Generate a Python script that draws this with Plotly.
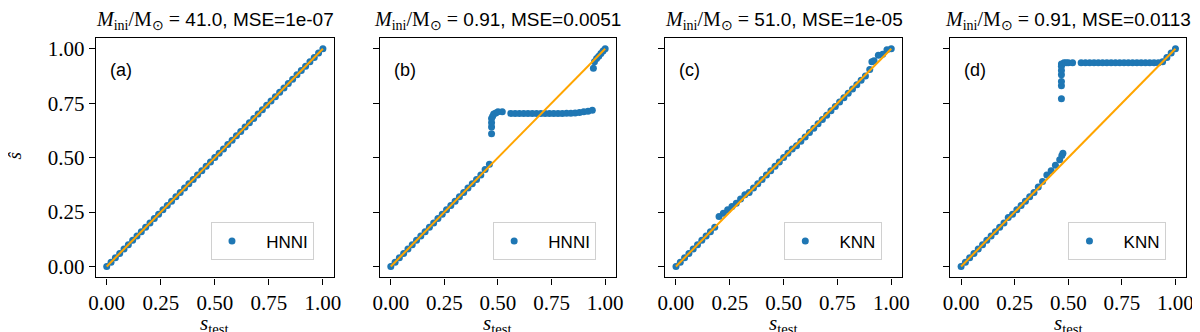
import plotly.graph_objects as go

# pannello (a) - HNNI, M=41.0
s_test_a = [0.00, 0.02, 0.04, 0.06, 0.08, 0.10, 0.12, 0.14, 0.16, 0.18, 0.20, 0.22, 0.24, 0.26, 0.28,
            0.30, 0.32, 0.34, 0.36, 0.38, 0.40, 0.42, 0.44, 0.46, 0.48, 0.50, 0.52, 0.54, 0.56, 0.58,
            0.60, 0.62, 0.64, 0.66, 0.68, 0.70, 0.72, 0.74, 0.76, 0.78, 0.80, 0.82, 0.84, 0.86, 0.88,
            0.90, 0.92, 0.94, 0.96, 0.98, 1.00]
s_hat_a = [0.00, 0.02, 0.04, 0.06, 0.08, 0.10, 0.12, 0.14, 0.16, 0.18, 0.20, 0.22, 0.24, 0.26, 0.28,
           0.30, 0.32, 0.34, 0.36, 0.38, 0.40, 0.42, 0.44, 0.46, 0.48, 0.50, 0.52, 0.54, 0.56, 0.58,
           0.60, 0.62, 0.64, 0.66, 0.68, 0.70, 0.72, 0.74, 0.76, 0.78, 0.80, 0.82, 0.84, 0.86, 0.88,
           0.90, 0.92, 0.94, 0.96, 0.98, 1.00]

# pannello (b) - HNNI, M=0.91
s_test_b = [0.00, 0.02, 0.04, 0.06, 0.08, 0.10, 0.12, 0.14, 0.16, 0.18, 0.20, 0.22, 0.24, 0.26, 0.28,
            0.30, 0.32, 0.34, 0.36, 0.38, 0.40, 0.42, 0.44, 0.46,
            0.47, 0.47, 0.47, 0.47, 0.475, 0.48, 0.49, 0.50, 0.52,
            0.56, 0.58, 0.60, 0.62, 0.64, 0.66, 0.68, 0.70, 0.72, 0.74, 0.76, 0.78, 0.80, 0.82, 0.84,
            0.86, 0.88, 0.90, 0.92, 0.94,
            0.945, 0.95, 0.96, 0.97, 0.98, 0.99, 1.00]
s_hat_b = [0.00, 0.02, 0.04, 0.06, 0.08, 0.10, 0.12, 0.14, 0.16, 0.18, 0.20, 0.22, 0.24, 0.26, 0.28,
           0.30, 0.32, 0.34, 0.36, 0.38, 0.40, 0.42, 0.445, 0.47,
           0.61, 0.64, 0.66, 0.68, 0.69, 0.70, 0.705, 0.71, 0.71,
           0.703, 0.703, 0.703, 0.703, 0.703, 0.703, 0.703, 0.703, 0.703, 0.703, 0.703, 0.703, 0.703, 0.704, 0.704,
           0.705, 0.707, 0.71, 0.713, 0.717,
           0.91, 0.94, 0.955, 0.965, 0.978, 0.99, 1.00]

# pannello (c) - KNN, M=51.0
s_test_c = [0.00, 0.02, 0.04, 0.06, 0.08, 0.10, 0.12, 0.14, 0.16, 0.18, 0.20, 0.22, 0.24, 0.26, 0.28,
            0.30, 0.32, 0.34, 0.36, 0.38, 0.40, 0.42, 0.44, 0.46, 0.48, 0.50, 0.52, 0.54, 0.56, 0.58,
            0.60, 0.62, 0.64, 0.66, 0.68, 0.70, 0.72, 0.74, 0.76, 0.78, 0.80, 0.82, 0.84, 0.86, 0.88,
            0.90, 0.91, 0.92, 0.94, 0.96, 0.98, 1.00]
s_hat_c = [0.00, 0.02, 0.04, 0.06, 0.08, 0.10, 0.12, 0.14, 0.16, 0.18, 0.23, 0.245, 0.26, 0.275, 0.29,
           0.31, 0.33, 0.34, 0.36, 0.38, 0.40, 0.42, 0.44, 0.46, 0.48, 0.50, 0.52, 0.54, 0.555, 0.575,
           0.595, 0.615, 0.635, 0.655, 0.675, 0.695, 0.715, 0.735, 0.755, 0.775, 0.795, 0.815, 0.835, 0.855, 0.875,
           0.905, 0.94, 0.945, 0.97, 0.975, 0.995, 1.00]

# pannello (d) - KNN, M=0.91
s_test_d = [0.00, 0.02, 0.04, 0.06, 0.08, 0.10, 0.12, 0.14, 0.16, 0.18, 0.20, 0.22, 0.24, 0.26, 0.28,
            0.30, 0.32, 0.34, 0.36, 0.38,
            0.40, 0.42, 0.44, 0.46, 0.47, 0.475,
            0.468, 0.468, 0.468, 0.468, 0.468, 0.468, 0.468,
            0.48, 0.49, 0.50, 0.52,
            0.56, 0.58, 0.60, 0.62, 0.64, 0.66, 0.68, 0.70, 0.72, 0.74, 0.76, 0.78, 0.80, 0.82, 0.84,
            0.86, 0.88, 0.90, 0.92,
            0.94, 0.96, 0.98, 1.00]
s_hat_d = [0.00, 0.02, 0.04, 0.06, 0.08, 0.10, 0.12, 0.14, 0.16, 0.18, 0.20, 0.225, 0.24, 0.26, 0.28,
           0.30, 0.32, 0.34, 0.365, 0.39,
           0.42, 0.44, 0.465, 0.49, 0.51, 0.52,
           0.77, 0.83, 0.85, 0.88, 0.90, 0.92, 0.93,
           0.935, 0.935, 0.935, 0.935,
           0.935, 0.935, 0.935, 0.935, 0.935, 0.935, 0.935, 0.935, 0.935, 0.935, 0.935, 0.935, 0.935, 0.935, 0.935,
           0.935, 0.935, 0.935, 0.935,
           0.94, 0.96, 0.98, 1.00]

diag = [0.0, 1.0]

titoli = ["41.0, MSE=1e-07", "0.91, MSE=0.0051", "51.0, MSE=1e-05", "0.91, MSE=0.0113"]
etichette = ["(a)", "(b)", "(c)", "(d)"]
modelli = ["HNNI", "HNNI", "KNN", "KNN"]

xs = [s_test_a, s_test_b, s_test_c, s_test_d]
ys = [s_hat_a, s_hat_b, s_hat_c, s_hat_d]

W, H = 1200, 332
pannelli_px = [(81, 322), (369, 608), (658, 898), (947, 1186)]
top_px, bot_px = 29, 270

BLU = "#1f77b4"
ARANCIO = "#ffa500"
SERIF = "Liberation Serif"
SANS = "Liberation Sans"
NBSP = "\u00a0"

fig = go.Figure()
layout = dict(
    width=W, height=H, margin=dict(l=0, r=0, t=0, b=0),
    plot_bgcolor="white", paper_bgcolor="white", showlegend=True,
)
annotazioni = []

for i in range(4):
    sfx = "" if i == 0 else str(i + 1)
    leg = "legend" if i == 0 else "legend" + str(i + 1)
    x0, x1 = pannelli_px[i]

    fig.add_trace(go.Scatter(
        x=xs[i], y=ys[i], mode="markers", name=NBSP * 3 + modelli[i],
        marker=dict(color=BLU, size=7, line=dict(width=0)),
        xaxis="x" + sfx, yaxis="y" + sfx, legend=leg,
    ))
    fig.add_trace(go.Scatter(
        x=diag, y=diag, mode="lines", showlegend=False,
        line=dict(color=ARANCIO, width=2),
        xaxis="x" + sfx, yaxis="y" + sfx,
    ))

    asse = dict(
        range=[-0.05, 1.05], tickvals=[0, 0.25, 0.5, 0.75, 1.0],
        ticktext=["0.00", "0.25", "0.50", "0.75", "1.00"],
        ticks="outside", ticklen=6, tickwidth=1.4, tickcolor="black",
        showline=True, linecolor="black", linewidth=1.4, mirror=True,
        showgrid=False, zeroline=False,
        tickfont=dict(family=SERIF, size=21, color="black"),
    )
    layout["xaxis" + sfx] = dict(asse, domain=[x0 / W, x1 / W], anchor="y" + sfx)
    layout["yaxis" + sfx] = dict(asse, domain=[(H - bot_px) / H, (H - top_px) / H],
                                 anchor="x" + sfx, showticklabels=(i == 0))

    layout[leg] = dict(
        x=(x1 - 20) / W, y=(H - bot_px + 17) / H, xanchor="right", yanchor="bottom",
        bgcolor="white", bordercolor="#d0d0d0", borderwidth=1,
        font=dict(family=SANS, size=17, color="black"),
    )

    xc = (x0 + x1) / 2 / W
    annotazioni.append(dict(
        x=xc, y=1 - 12 / H, xref="paper", yref="paper", showarrow=False,
        xanchor="center", yanchor="middle",
        text=('<span style="font-family:Liberation Serif;font-size:20px"><i>M</i><sub>ini</sub>/M<sub>⊙</sub> =</span> '
              + titoli[i]),
        font=dict(family=SANS, size=19, color="black"),
    ))
    annotazioni.append(dict(
        x=(x0 + 12) / W, y=1 - 61 / H, xref="paper", yref="paper", showarrow=False,
        xanchor="left", yanchor="middle", text=etichette[i],
        font=dict(family=SANS, size=18, color="black"),
    ))
    annotazioni.append(dict(
        x=xc, y=0, xref="paper", yref="paper", showarrow=False,
        xanchor="center", yanchor="bottom", text="<i>s</i><sub>test</sub>",
        font=dict(family=SERIF, size=21, color="black"),
    ))

annotazioni.append(dict(
    x=0, y=1 - 148 / H, xref="paper", yref="paper", showarrow=False,
    xanchor="left", yanchor="middle", textangle=-90, text="<i>ŝ</i>",
    xshift=-14, font=dict(family=SERIF, size=19, color="black"),
))

layout["annotations"] = annotazioni
fig.update_layout(**layout)

fig.write_html("out.html")
